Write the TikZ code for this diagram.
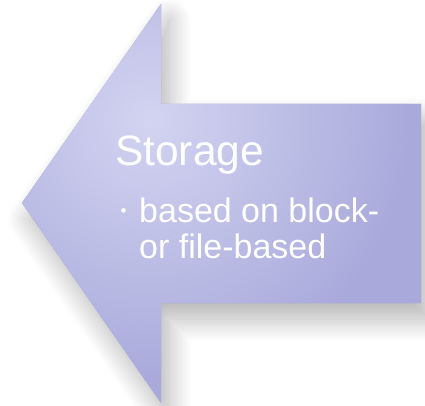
\documentclass[tikz,border=0pt]{standalone}
\usepackage{fontspec}
\setmainfont{Liberation Sans}
\usetikzlibrary{shadows.blur}
\definecolor{arrowdark}{HTML}{A9AADB}
\definecolor{arrowlight}{HTML}{D3D4F1}
\tikzset{
  label text/.style={text=white, inner sep=0pt, anchor=base west},
}
\begin{document}
\begin{tikzpicture}[x=1pt,y=1pt]
\useasboundingbox (0,0) rectangle (425,405);
\coordinate (tip) at (22,202);
\coordinate (ht) at (161,401);
\coordinate (hb) at (161,2);
\coordinate (st) at (161,301);
\coordinate (sb) at (161,102);
\coordinate (rt) at (421,301);
\coordinate (rb) at (421,102);
% shadow + base
\path[fill=arrowdark, blur shadow={shadow xshift=8pt, shadow yshift=-16pt, shadow blur radius=22pt, shadow blur steps=20, shadow opacity=30}]
  (tip) -- (ht) -- (st) -- (rt) -- (rb) -- (sb) -- (hb) -- cycle;
\begin{scope}
  \clip (tip) -- (ht) -- (st) -- (rt) -- (rb) -- (sb) -- (hb) -- cycle;
  \fill[arrowdark] (0,0) rectangle (425,405);
  \shade[inner color=arrowlight, outer color=arrowdark] (150,285) circle (260);
\end{scope}
\node[label text, font=\fontsize{42.5}{48}\selectfont] (title) at (115,240) {Storage};
\node[label text, font=\fontsize{17}{19}\selectfont] (bullet) at (120.4,188.9) {•};
\node[label text, font=\fontsize{34}{36}\selectfont] (line1) at (139,183) {based on block-};
\node[label text, font=\fontsize{34}{36}\selectfont] (line2) at (139,147) {or file-based};
\end{tikzpicture}
\end{document}
